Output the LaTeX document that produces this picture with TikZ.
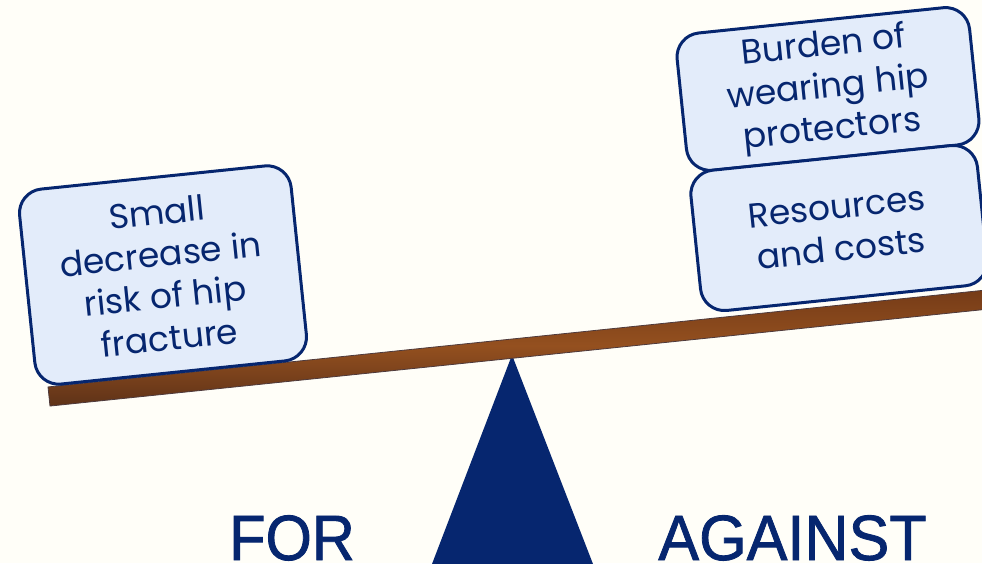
\documentclass[tikz,border=0pt]{standalone}
\usepackage{fontspec}
\setmainfont{Poppins}
\newfontfamily\labelfont[FakeBold=1.3]{Liberation Sans}
\definecolor{bgcream}{HTML}{FFFEF8}
\definecolor{navy}{HTML}{06266F}
\definecolor{boxfill}{HTML}{E3ECFA}
\definecolor{woodtop}{HTML}{733A17}
\definecolor{woodmid}{HTML}{94501F}
\definecolor{woodbot}{HTML}{5E3218}
\definecolor{woodedge}{HTML}{4E3A3C}
\tikzset{
  weightbox/.style={draw=navy, fill=boxfill, line width=3pt, rounded corners=24pt,
    text=navy, align=center, font=\fontsize{34.5}{42}\selectfont, inner sep=0pt,
    rotate=5.9},
  sidelabel/.style={text=navy, font=\labelfont\fontsize{64}{64}\selectfont,
    anchor=base, inner sep=0pt, transform shape},
}
\begin{document}
\begin{tikzpicture}[x=1pt,y=1pt]
\useasboundingbox (0,0) rectangle (982,563);
\clip (0,0) rectangle (982,563);
\fill[bgcream] (0,0) rectangle (982,563);
% fulcrum
\coordinate (apex) at (512,208);
\coordinate (baseL) at (432,-1);
\coordinate (baseR) at (593,-1);
\fill[navy] (baseL) -- (apex) -- (baseR) -- cycle;
% beam
\begin{scope}[shift={(49,166.5)}, rotate=5.9]
  \shade[top color=woodtop, bottom color=woodbot, middle color=woodmid, draw=woodedge, line width=0.8pt]
    (0,-9.6) rectangle (990,9.6);
\end{scope}
% boxes
\node[weightbox, minimum width=273pt, minimum height=196pt] (benefit) at (163,288)
  {Small\\decrease in\\risk of hip\\fracture};
\node[weightbox, minimum width=294pt, minimum height=138pt] (burden) at (828,474)
  {Burden of\\wearing hip\\protectors};
\node[weightbox, minimum width=288pt, minimum height=141pt] (costs) at (839,335)
  {Resources\\and costs};
% labels
\node[sidelabel, xscale=0.93] (for) at (292,3) {FOR};
\node[sidelabel, xscale=0.955] (against) at (792.5,3) {AGAINST};
\end{tikzpicture}
\end{document}
